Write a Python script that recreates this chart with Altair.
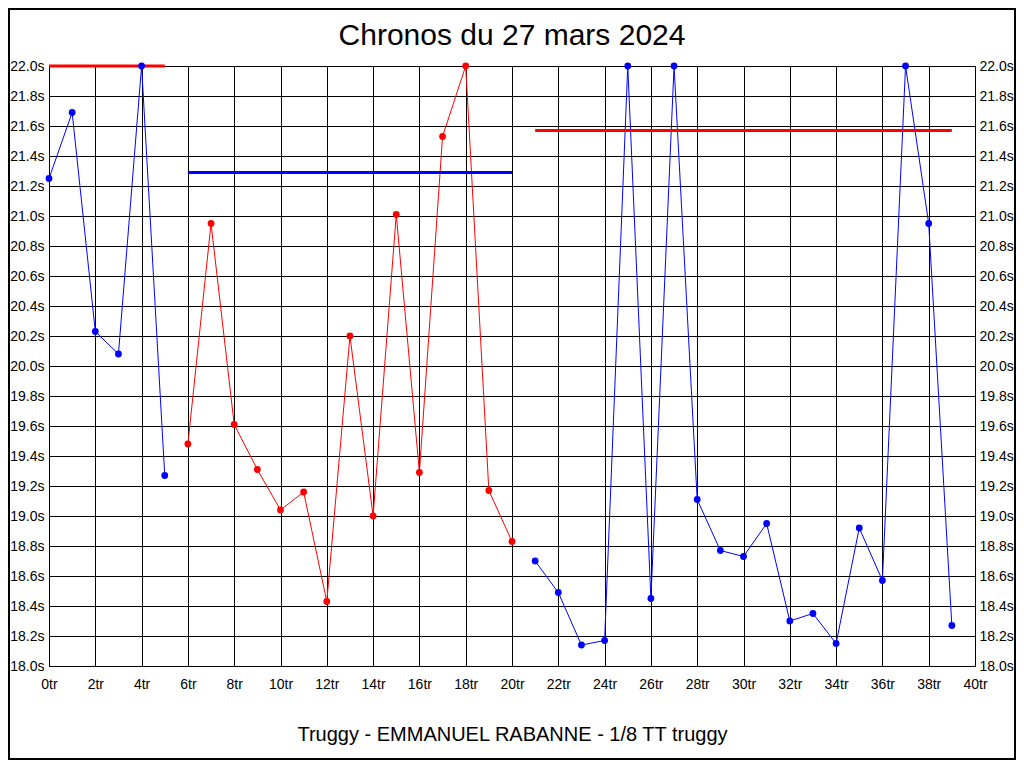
import altair as alt
import pandas as pd

# ---- data ----
laps = list(range(40))
times = [21.25, 21.69, 20.23, 20.08, 22.00, 19.27,
         19.48, 20.95, 19.61, 19.31, 19.04, 19.16, 18.43, 20.20, 19.00,
         21.01, 19.29, 21.53, 22.00, 19.17, 18.83,
         18.70, 18.49, 18.14, 18.17, 22.00, 18.45, 22.00, 19.11, 18.77,
         18.73, 18.95, 18.30, 18.35, 18.15, 18.92, 18.57, 22.00, 20.95, 18.27]
segments = ["s1"] * 6 + ["s2"] * 15 + ["s3"] * 19

avg_segment = ["s1", "s2", "s3"]
avg_start = [0, 6, 21]
avg_end = [5, 20, 39]
avg_value = [22.00, 21.29, 21.57]

seg_colors = {"s1": "#0000FF", "s2": "#FF0000", "s3": "#0000FF"}
avg_colors = {"s1": "#FF0000", "s2": "#0000FF", "s3": "#FF0000"}

x_ticks = list(range(0, 41, 2))
y_ticks = [18.0, 18.2, 18.4, 18.6, 18.8, 19.0, 19.2, 19.4, 19.6, 19.8, 20.0,
           20.2, 20.4, 20.6, 20.8, 21.0, 21.2, 21.4, 21.6, 21.8, 22.0]

title_text = "Chronos du 27 mars 2024"
subtitle_text = "Truggy - EMMANUEL RABANNE - 1/8 TT truggy"

df = pd.DataFrame({"lap": laps, "time": times, "seg": segments})
df_avg = pd.DataFrame({"seg": avg_segment, "start": avg_start,
                       "end": avg_end, "value": avg_value})
df_title = pd.DataFrame({"t": [title_text]})

FONT = "Liberation Sans"

x_scale = alt.Scale(domain=[0, 40], nice=False, zero=False)
y_scale = alt.Scale(domain=[18.0, 22.0], nice=False, zero=False)

x_axis = alt.Axis(values=x_ticks, labelExpr="datum.value + 'tr'",
                  grid=True, gridColor="black", gridOpacity=1, gridWidth=1,
                  ticks=False, domainColor="black", domainWidth=1,
                  labelFont=FONT, labelFontSize=14, labelColor="black",
                  labelPadding=11, labelFlush=False, labelOverlap=False,
                  title=subtitle_text, titleFont=FONT, titleFontSize=20,
                  titleFontWeight="normal", titleColor="black", titlePadding=33)

y_axis_left = alt.Axis(values=y_ticks, labelExpr="format(datum.value, '.1f') + 's'",
                       grid=True, gridColor="black", gridOpacity=1, gridWidth=1,
                       ticks=False, domainColor="black", domainWidth=1,
                       labelFont=FONT, labelFontSize=14, labelColor="black",
                       labelPadding=5, labelFlush=False, labelOverlap=False,
                       title=None, orient="left")

y_axis_right = alt.Axis(values=y_ticks, labelExpr="format(datum.value, '.1f') + 's'",
                        grid=False, ticks=False, domainColor="black", domainWidth=1,
                        labelFont=FONT, labelFontSize=14, labelColor="black",
                        labelPadding=4, labelFlush=False, labelOverlap=False,
                        title=None, orient="right")

seg_scale = alt.Scale(domain=list(seg_colors.keys()), range=list(seg_colors.values()))
avg_scale = alt.Scale(domain=list(avg_colors.keys()), range=list(avg_colors.values()))

base = alt.Chart(df)

lines = base.mark_line(strokeWidth=1, clip=True).encode(
    x=alt.X("lap:Q", scale=x_scale, axis=x_axis),
    y=alt.Y("time:Q", scale=y_scale, axis=y_axis_left),
    color=alt.Color("seg:N", scale=seg_scale, legend=None),
    detail="seg:N",
)

points = base.mark_circle(size=46, opacity=1).encode(
    x=alt.X("lap:Q", scale=x_scale, axis=x_axis),
    y=alt.Y("time:Q", scale=y_scale, axis=y_axis_right),
    color=alt.Color("seg:N", scale=seg_scale, legend=None),
)

avgs = alt.Chart(df_avg).mark_rule(strokeWidth=3).encode(
    x=alt.X("start:Q", scale=x_scale, axis=x_axis),
    x2="end:Q",
    y=alt.Y("value:Q", scale=y_scale, axis=None),
    color=alt.Color("seg:N", scale=avg_scale, legend=None),
)

frame = alt.Chart(df_title).mark_rect(fill=None, stroke="black", strokeWidth=2).encode(
    x=alt.value(-40), x2=alt.value(966), y=alt.value(-57), y2=alt.value(693)
)

title = alt.Chart(df_title).mark_text(font=FONT, fontSize=30, color="black",
                                      align="center", baseline="alphabetic").encode(
    x=alt.value(463), y=alt.value(-21), text="t:N"
)

chart = alt.layer(lines, avgs, points, frame, title).resolve_scale(
    color="independent"
).resolve_axis(y="independent").properties(
    width=926, height=600,
    autosize=alt.AutoSizeParams(type="none"),
    padding={"left": 41, "top": 58, "right": 41, "bottom": 94},
).configure_view(stroke="black", strokeWidth=1).configure(background="white")

chart.save("out.html", embed_options={"renderer": "svg", "actions": False})
